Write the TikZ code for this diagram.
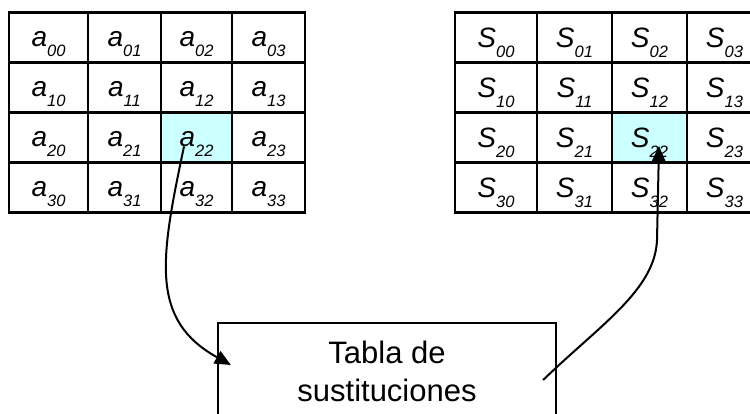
\documentclass[tikz,border=0pt]{standalone}
\usepackage{fontspec}
\setmainfont{Liberation Sans}
\usetikzlibrary{arrows.meta}
\definecolor{celeste}{RGB}{204,255,255}
\tikzstyle{cell}=[draw,line width=2.4pt]
\tikzstyle{sel}=[fill=celeste]
\tikzstyle{elt}=[inner sep=0pt,anchor=base]
\tikzstyle{tabla}=[draw,line width=2.2pt,minimum width=338pt,minimum height=96pt,align=center,font=\fontsize{31}{38}\selectfont]
\tikzstyle{jmp}=[-{Triangle[length=16pt,width=14pt]},line width=2pt]
\newcommand\elem[2]{{\fontsize{28}{28}\selectfont\itshape #1}{\fontsize{16.5}{16.5}\selectfont\itshape\raisebox{-10pt}{#2}}}

\begin{document}
\begin{tikzpicture}[x=1pt,y=-1pt]
\useasboundingbox (0,0) rectangle (750,414);
\clip (0,0) rectangle (750,414);
% celdas marcadas
\fill[sel] (161,112.5) rectangle (232,162.5);
\fill[sel] (612,112.5) rectangle (687,162.5);
% estado
\foreach \c/\xa/\xb in {0/9/88,1/88/161,2/161/232,3/232/305}
  \foreach \r in {0,...,3}
    {\draw[cell] (\xa,12.5+50*\r) rectangle (\xb,62.5+50*\r);
     \node[elt] (a\r\c) at ({(\xa+\xb)/2},47+50*\r) {\elem{a}{\r\c}};}
% salida
\foreach \c/\xa/\xb in {0/455/537,1/537/612,2/612/687,3/687/762}
  \foreach \r in {0,...,3}
    {\draw[cell] (\xa,12.5+50*\r) rectangle (\xb,62.5+50*\r);
     \node[elt] (s\r\c) at ({(\xa+\xb)/2},47.5+50*\r) {\elem{S}{\r\c}};}
\node[tabla] (tab) at (387,371) {Tabla de\\sustituciones};
\draw[jmp] ([xshift=-12.5pt,yshift=0.5pt]a22.base) .. controls (160,260) and (150,320) .. ([xshift=14pt,yshift=6pt]tab.west);
\draw[jmp] ([xshift=-14pt,yshift=-9pt]tab.east) .. controls (600,325) and (655,290) .. (657,240) -- ([xshift=9.5pt,yshift=1.5pt]s22.base);
\end{tikzpicture}
\end{document}
